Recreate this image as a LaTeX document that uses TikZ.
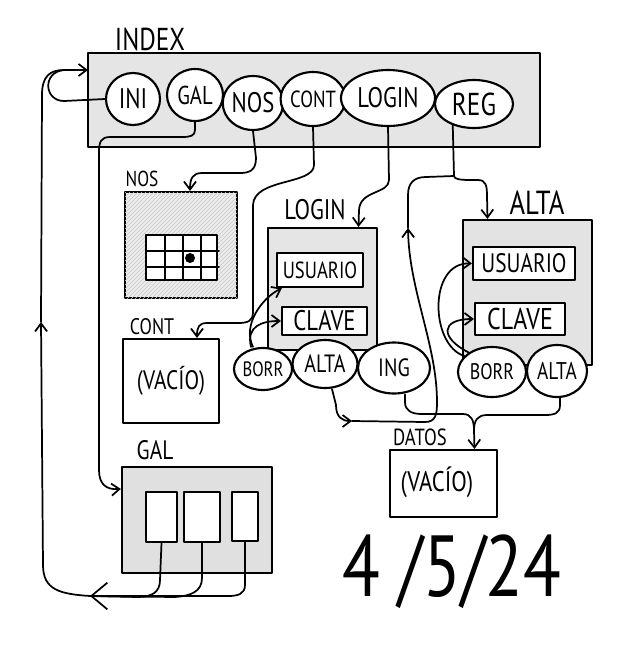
\documentclass[tikz,border=0pt]{standalone}
\usepackage{fontspec}
\setmainfont{PT Sans}
\usetikzlibrary{fit,arrows.meta,patterns,shapes.geometric}
\newdimen\pxu \pxu=0.75pt
\newcommand{\hw}[1]{\scalebox{1}[1.25]{#1}}
\begin{document}
\begin{tikzpicture}[x=0.75pt,y=-0.75pt,
  ln/.style={line width=1.6pt, line join=round, line cap=round},
  conn/.style={line width=1.3pt, line cap=round, line join=round},
  tip/.style={-{Straight Barb[length=6pt,width=9pt]}},
  bigtip/.style={-{Straight Barb[length=12pt,width=20pt]}},
  box/.style={draw, ln, inner sep=0pt, fill=gray!22},
  wbox/.style={draw, ln, inner sep=0pt, fill=white},
  btn/.style={ellipse, draw, ln, fill=white, inner sep=0pt},
  lbl/.style={inner sep=0pt},
  fa/.style={font=\fontsize{#1}{#1}\selectfont},
]
\useasboundingbox[fill=white] (0,0) rectangle (624,658);

% ---------- INDEX ----------
\node[box, fill=gray!20, fit={(88,53) (540,147)}] (index) {};
\node[lbl, fa=19] (tindex) at (150,39) {\hw{INDEX}};
\node[btn, minimum width=54\pxu, minimum height=52\pxu, fa=17] (ini) at (133,99) {\hw{INI}};
\node[btn, minimum width=56\pxu, minimum height=52\pxu, fa=15.5] (gale) at (195,95) {\hw{GAL}};
\node[btn, minimum width=60\pxu, minimum height=54\pxu, fa=17] (nose) at (253,103) {\hw{NOS}};
\node[btn, minimum width=60\pxu, minimum height=54\pxu, fa=14] (conte) at (313,99) {\hw{CONT}};
\node[btn, minimum width=94\pxu, minimum height=56\pxu, fa=17] (logine) at (388,98) {\hw{LOGIN}};
\node[btn, minimum width=78\pxu, minimum height=48\pxu, fa=19] (rege) at (474,104) {\hw{REG}};

% ---------- NOS ----------
\node[box, fill=gray!14, postaction={pattern=north east lines, pattern color=gray!45}, fit={(125,192) (237,298)}] (nos) {};
\node[lbl, fa=13] (tnos) at (142,179) {\hw{NOS}};
\node[wbox, line width=1.3pt, fit={(146,235) (217,280)}] (grid) {};
\draw[conn] (165,235) -- (165,280) (183,235) -- (183,280) (201,235) -- (201,280)
            (146,251) -- (219,251) (146,267) -- (219,267);
\node[circle, fill=black, inner sep=0pt, minimum size=7.5pt] (dot) at (190,258) {};

% ---------- CONT ----------
\node[wbox, fit={(123,339) (219,423)}] (cont) {};
\node[lbl, fa=13.5] (tcont) at (152,327) {\hw{CONT}};
\node[lbl, fa=16] (vac1) at (171,381) {\hw{(VACÍO)}};

% ---------- GAL ----------
\node[box, fill=gray!24, fit={(122,467) (272,573)}] (gal) {};
\node[lbl, fa=16] (tgal) at (155,450) {\hw{GAL}};
\node[wbox, fit={(146,492) (177,542)}] (g1) {};
\node[wbox, fit={(184,492) (220,542)}] (g2) {};
\node[wbox, fit={(232,492) (258,541)}] (g3) {};

% ---------- LOGIN ----------
\node[box, fill=gray!20, fit={(268,228) (377,350)}] (login) {};
\node[lbl, fa=17] (tlogin) at (315,210) {\hw{LOGIN}};
\node[wbox, fit={(277,253) (363,287)}] (usu1) {};
\node[lbl, fa=14] (tusu1) at (usu1) {\hw{USUARIO}};
\node[wbox, fit={(282,307) (367,335)}] (clave1) {};
\node[lbl, fa=17] (tclave1) at (clave1) {\hw{CLAVE}};
\node[btn, minimum width=58\pxu, minimum height=42\pxu, fa=12.5] (borr1) at (263,369) {\hw{BORR}};
\node[btn, minimum width=65\pxu, minimum height=48\pxu, fa=15] (alta1) at (325,364) {\hw{ALTA}};
\node[btn, minimum width=72\pxu, minimum height=51\pxu, fa=15] (ing) at (394,368) {\hw{ING}};

% ---------- ALTA ----------
\node[box, fill=gray!22, fit={(463,220) (592,365)}] (alta) {};
\node[lbl, fa=20] (talta) at (537,203) {\hw{ALTA}};
\node[wbox, fit={(473,247) (575,280)}] (usu2) {};
\node[lbl, fa=16] (tusu2) at (usu2) {\hw{USUARIO}};
\node[wbox, fit={(475,303) (565,335)}] (clave2) {};
\node[lbl, fa=18] (tclave2) at (clave2) {\hw{CLAVE}};
\node[btn, minimum width=68\pxu, minimum height=50\pxu, fa=13.5] (borr2) at (492,372) {\hw{BORR}};
\node[btn, minimum width=60\pxu, minimum height=52\pxu, fa=14.5] (alta2) at (557,371) {\hw{ALTA}};

% ---------- DATOS ----------
\node[wbox, fit={(390,450) (497,517)}] (datos) {};
\node[lbl, fa=14] (tdatos) at (420,437) {\hw{DATOS}};
\node[lbl, fa=17] (vac2) at (437,482) {\hw{(VACÍO)}};

% ---------- date ----------
\node[lbl, fa=52] (date) at (452,572) {\hw{4 /5/24}};

% ---------- coordinates ----------
\coordinate (idxin) at (88,70);
\coordinate (back) at (90,596);
\coordinate (upA) at (41,322);
\coordinate (jn) at (454,176);
\coordinate (m1) at (352,421);
\coordinate (m2) at (408,228);
\coordinate (dmerge) at (474,430);

% ---------- connectors ----------
\draw[conn, tip] (ini.west) -- (64,101) .. controls (44,101) and (42,72) .. (64,70) -- (idxin);
\draw[conn, tip] (back) .. controls (60,594) and (43,590) .. (43,565) -- (upA);
\draw[conn] (upA) -- (42,95) .. controls (42,76) and (50,70) .. (64,70);

\draw[conn] (g1.south) -- (160,580) .. controls (160,592) and (152,597) .. (138,597) -- (back);
\draw[conn] (g2.south) -- (202,578) .. controls (202,592) and (190,596) .. (175,597) -- (back);
\draw[conn, bigtip] (g3.south) -- (245,585) .. controls (245,594) and (238,596) .. (228,596) -- (back);

\draw[conn, tip] (gale.south) -- (195,130) .. controls (195,136) and (190,137) .. (182,137) -- (110,137) .. controls (101,137) and (99,142) .. (99,152) -- (99,470) .. controls (99,484) and (106,490) .. ([yshift=-23\pxu]gal.north west);

\draw[conn, tip] (nose.south) -- (256,158) .. controls (256,170) and (250,173) .. (240,173) -- (202,173) .. controls (193,173) and (190,178) .. ([xshift=9\pxu]nos.north);

\draw[conn, tip] (conte.south) -- (314,165) .. controls (314,185) and (254,178) .. (253,205) -- (253,312) .. controls (253,321) and (248,323) .. (238,323) -- (207,323) .. controls (199,323) and (197,327) .. ([xshift=26\pxu]cont.north);

\draw[conn, tip] (logine.south) -- (389,180) .. controls (389,194) and (360,190) .. (359,210) -- ([xshift=36\pxu]login.north);

\draw[conn, tip] (rege.225) -- (jn) .. controls (454,179) and (460,180) .. (470,180) -- (478,180) .. controls (486,180) and (487,186) .. (487,196) -- ([xshift=-40\pxu]alta.north);

\draw[conn, tip] ([xshift=7\pxu]alta1.south) -- (336,405) .. controls (336,417) and (342,421) .. (m1);
\draw[conn, tip] (m1) -- (425,422) .. controls (436,422) and (437,414) .. (437,402) .. controls (437,345) and (409,290) .. (m2);
\draw[conn] (m2) -- (408,195) .. controls (408,183) and (414,177) .. (426,177) -- (jn);

\draw[conn, tip] ([xshift=11\pxu]ing.south) -- (405,402) .. controls (405,411) and (412,414) .. (422,414) -- (463,414) .. controls (471,414) and (474,420) .. (dmerge) -- ([xshift=31\pxu]datos.north);
\draw[conn] ([xshift=3\pxu]alta2.south) -- (560,405) .. controls (560,413) and (555,415) .. (545,415) -- (487,415) .. controls (478,415) and (474,420) .. (dmerge);

\draw[conn, tip] ([xshift=-10\pxu]borr1.north) .. controls (242,325) and (262,298) .. ([xshift=6\pxu]usu1.south west);
\draw[conn, tip] ([xshift=-12\pxu]borr1.north) .. controls (246,326) and (262,321) .. (clave1.west);

\draw[conn, tip] (borr2.150) .. controls (430,345) and (428,262) .. (usu2.west);
\draw[conn, tip] (borr2.140) .. controls (440,338) and (440,319) .. (clave2.west);
\end{tikzpicture}
\end{document}
